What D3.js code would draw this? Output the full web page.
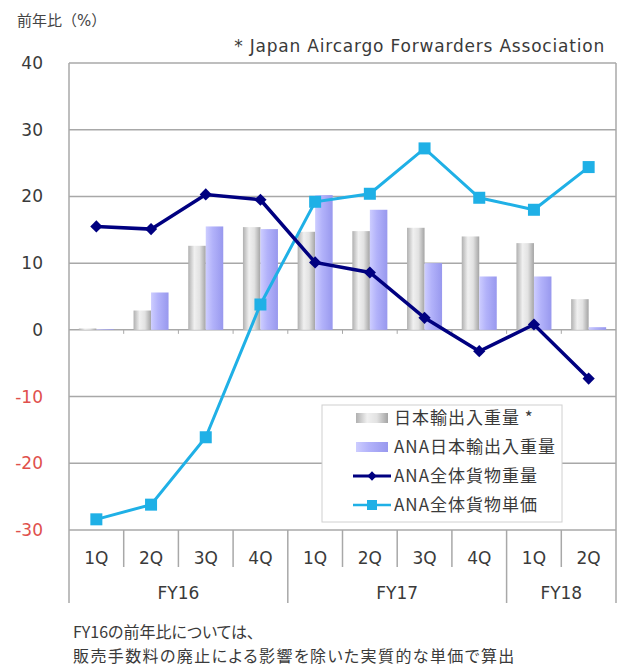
<!DOCTYPE html>
<html>
<head>
<meta charset="utf-8">
<script src="https://cdn.jsdelivr.net/npm/d3@7"></script>
<style>
  body { margin: 0; background: #fff; }
  svg { display: block; }
  text { font-family: "DejaVu Sans", "Noto Sans CJK JP", sans-serif; }
  .jp { font-family: "Noto Sans CJK JP", sans-serif; font-feature-settings: "palt"; }
</style>
</head>
<body>
<div id="chart"></div>
<script>
const quarters = ['1Q', '2Q', '3Q', '4Q', '1Q', '2Q', '3Q', '4Q', '1Q', '2Q'];
const fiscalYears = ['FY16', 'FY17', 'FY18'];
const quartersPerYear = [4, 4, 2];
const japanWeight = [0.2, 2.9, 12.6, 15.4, 14.7, 14.8, 15.3, 14.0, 13.0, 4.6];
const anaJapanWeight = [0.1, 5.6, 15.5, 15.1, 20.2, 18.0, 10.0, 8.0, 8.0, 0.4];
const anaTotalWeight = [15.5, 15.1, 20.3, 19.5, 10.1, 8.6, 1.8, -3.2, 0.8, -7.3];
const anaUnitPrice = [-28.4, -26.2, -16.1, 3.8, 19.2, 20.4, 27.2, 19.8, 18.0, 24.4];
const yTicks = [40, 30, 20, 10, 0, -10, -20, -30];
const seriesNames = ['日本輸出入重量 *', 'ANA日本輸出入重量', 'ANA全体貨物重量', 'ANA全体貨物単価'];

const width = 619;
const height = 670;
const plotLeft = 69, plotRight = 616, plotTop = 63, plotBottom = 530;
const gridColor = '#a8a8a8';
const textColor = '#3a3a3a';

const svg = d3.select('#chart')
    .append('svg')
    .attr('width', width)
    .attr('height', height);

const defs = svg.append('defs');
function gradient(id, stops) {
    const g = defs.append('linearGradient').attr('id', id)
        .attr('x1', '0%').attr('x2', '100%').attr('y1', '0%').attr('y2', '0%');
    stops.forEach(s => g.append('stop').attr('offset', s[0]).attr('stop-color', s[1]));
}
gradient('grayBar', [['0%', '#b0b0b0'], ['35%', '#f0f0f0'], ['65%', '#e2e2e2'], ['100%', '#a4a4a4']]);
gradient('purpleBar', [['0%', '#cdcdff'], ['40%', '#b2b2fa'], ['100%', '#9898ee']]);

const ids = quarters.map((q, i) => i);
const x = d3.scaleBand().domain(ids).range([plotLeft, plotRight]);
const y = d3.scaleLinear().domain([-30, 40]).range([plotBottom, plotTop]);

// gridlines
svg.append('g').selectAll('line')
    .data(yTicks)
    .enter().append('line')
    .attr('x1', plotLeft).attr('x2', plotRight)
    .attr('y1', d => y(d)).attr('y2', d => y(d))
    .attr('stroke', gridColor)
    .attr('stroke-width', 1.5);

// small ticks on the zero line
svg.append('g').selectAll('line')
    .data(ids.slice(1))
    .enter().append('line')
    .attr('x1', d => x(d)).attr('x2', d => x(d))
    .attr('y1', y(0)).attr('y2', y(0) + 4)
    .attr('stroke', gridColor);

// frame
svg.append('line').attr('x1', plotLeft).attr('x2', plotLeft).attr('y1', plotTop).attr('y2', 603)
    .attr('stroke', gridColor).attr('stroke-width', 1.5);
svg.append('line').attr('x1', plotRight).attr('x2', plotRight).attr('y1', plotTop).attr('y2', 603)
    .attr('stroke', gridColor).attr('stroke-width', 1.5);

// y labels
svg.append('g').selectAll('text')
    .data(yTicks)
    .enter().append('text')
    .attr('x', 43)
    .attr('y', d => y(d) + 6)
    .attr('text-anchor', 'end')
    .attr('font-size', 17)
    .attr('fill', d => d < 0 ? '#e0504c' : textColor)
    .text(d => d);

// bars
const barW = x.bandwidth() * 0.32;
svg.append('g').selectAll('rect')
    .data(japanWeight)
    .enter().append('rect')
    .attr('x', (d, i) => x(i) + x.bandwidth() / 2 - barW)
    .attr('y', d => y(Math.max(d, 0)))
    .attr('width', barW)
    .attr('height', d => Math.abs(y(d) - y(0)))
    .attr('fill', 'url(#grayBar)');

svg.append('g').selectAll('rect')
    .data(anaJapanWeight)
    .enter().append('rect')
    .attr('x', (d, i) => x(i) + x.bandwidth() / 2)
    .attr('y', d => y(Math.max(d, 0)))
    .attr('width', barW)
    .attr('height', d => Math.abs(y(d) - y(0)))
    .attr('fill', 'url(#purpleBar)');

// lines
const line = d3.line()
    .x((d, i) => x(i) + x.bandwidth() / 2)
    .y(d => y(d));

svg.append('path')
    .datum(anaUnitPrice)
    .attr('d', line)
    .attr('fill', 'none')
    .attr('stroke', '#1fb0e6')
    .attr('stroke-width', 3);

svg.append('path')
    .datum(anaTotalWeight)
    .attr('d', line)
    .attr('fill', 'none')
    .attr('stroke', '#000080')
    .attr('stroke-width', 3.5);

svg.append('g').selectAll('rect')
    .data(anaUnitPrice)
    .enter().append('rect')
    .attr('x', (d, i) => x(i) + x.bandwidth() / 2 - 6)
    .attr('y', d => y(d) - 6)
    .attr('width', 12).attr('height', 12)
    .attr('fill', '#1fb0e6');

svg.append('g').selectAll('path')
    .data(anaTotalWeight)
    .enter().append('path')
    .attr('d', d3.symbol(d3.symbolDiamond2, 95))
    .attr('transform', (d, i) => `translate(${x(i) + x.bandwidth() / 2},${y(d)})`)
    .attr('fill', '#000080');

// x axis: quarters
svg.append('g').selectAll('text')
    .data(quarters)
    .enter().append('text')
    .attr('x', (d, i) => x(i) + x.bandwidth() / 2)
    .attr('y', 564)
    .attr('text-anchor', 'middle')
    .attr('font-size', 17)
    .attr('fill', textColor)
    .text(d => d);

const yearStarts = quartersPerYear.map((n, i) => d3.sum(quartersPerYear.slice(0, i)));
svg.append('g').selectAll('line')
    .data(ids.slice(1))
    .enter().append('line')
    .attr('x1', d => x(d)).attr('x2', d => x(d))
    .attr('y1', plotBottom)
    .attr('y2', d => yearStarts.includes(d) ? 603 : 567)
    .attr('stroke', gridColor)
    .attr('stroke-width', 1.5);

svg.append('g').selectAll('text')
    .data(fiscalYears)
    .enter().append('text')
    .attr('x', (d, i) => {
        const a = yearStarts[i], b = a + quartersPerYear[i] - 1;
        return (x(a) + x(b) + x.bandwidth()) / 2;
    })
    .attr('y', 599)
    .attr('text-anchor', 'middle')
    .attr('font-size', 17)
    .attr('fill', textColor)
    .text(d => d);

// legend
const legend = svg.append('g');
legend.append('rect')
    .attr('x', 322).attr('y', 405)
    .attr('width', 240).attr('height', 117)
    .attr('fill', '#fff')
    .attr('stroke', '#d0d0d0');

const rowY = d3.scalePoint().domain(seriesNames).range([418, 505]);
seriesNames.forEach((name, i) => {
    const ry = rowY(name);
    if (i < 2) {
        legend.append('rect')
            .attr('x', 356).attr('y', ry - 5)
            .attr('width', 32).attr('height', 10)
            .attr('fill', i === 0 ? 'url(#grayBar)' : 'url(#purpleBar)');
    } else {
        const c = i === 2 ? '#000080' : '#1fb0e6';
        legend.append('line')
            .attr('x1', 353).attr('x2', 391)
            .attr('y1', ry).attr('y2', ry)
            .attr('stroke', c).attr('stroke-width', i === 2 ? 3 : 2.5);
        if (i === 2) {
            legend.append('path')
                .attr('d', d3.symbol(d3.symbolDiamond2, 55))
                .attr('transform', `translate(372,${ry})`)
                .attr('fill', c);
        } else {
            legend.append('rect')
                .attr('x', 367).attr('y', ry - 5)
                .attr('width', 10).attr('height', 10)
                .attr('fill', c);
        }
    }
    legend.append('text')
        .attr('class', 'jp')
        .attr('x', 394).attr('y', ry + 6)
        .attr('font-size', 17)
        .attr('letter-spacing', 1)
        .attr('fill', textColor)
        .text(name);
});

// titles and notes
svg.append('text')
    .attr('x', 17).attr('y', 26)
    .attr('font-size', 15)
    .attr('fill', '#444')
    .text('前年比（%）');

svg.append('text')
    .attr('x', 605).attr('y', 52)
    .attr('text-anchor', 'end')
    .attr('font-size', 17)
    .attr('letter-spacing', 0.8)
    .attr('fill', textColor)
    .text('* Japan Aircargo Forwarders Association');

svg.append('text')
    .attr('class', 'jp')
    .attr('x', 73).attr('y', 638)
    .attr('font-size', 16)
    .attr('fill', textColor)
    .text('FY16の前年比については、');

svg.append('text')
    .attr('class', 'jp')
    .attr('x', 73).attr('y', 662)
    .attr('font-size', 16)
    .attr('letter-spacing', 1.4)
    .attr('fill', textColor)
    .text('販売手数料の廃止による影響を除いた実質的な単価で算出');
</script>
</body>
</html>
